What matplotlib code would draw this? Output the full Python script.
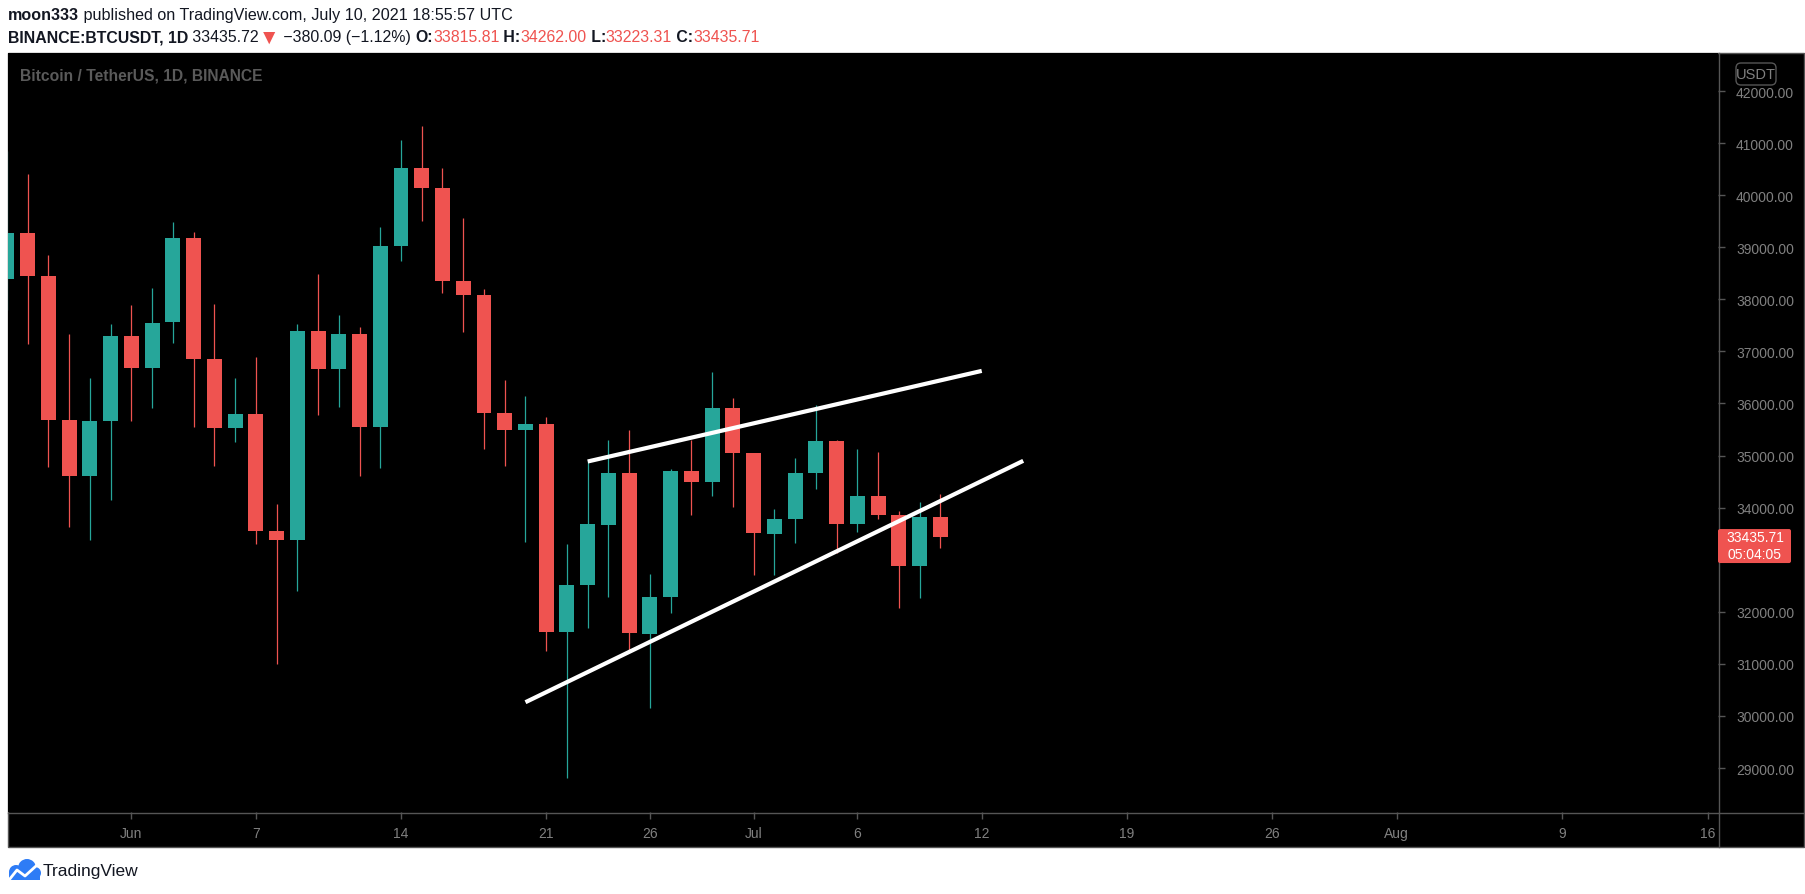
import matplotlib
matplotlib.use('Agg')
import matplotlib.pyplot as plt
import matplotlib.dates as mdates
import pandas as pd
from matplotlib.patches import Rectangle, FancyBboxPatch, Circle
from matplotlib.lines import Line2D
from matplotlib.transforms import IdentityTransform

plt.rcParams['font.family'] = ['Liberation Sans', 'DejaVu Sans']

# daily BTCUSDT candles, May 26 - Jul 10 2021
dates = pd.date_range('2021-05-26', '2021-07-10', freq='D')
opens = [38392, 39266, 38445, 35689, 34607, 35658, 37293, 36687, 37568, 39187,
         36851, 35520, 35796, 33556, 33380, 37389, 36663, 37331, 35546, 39021,
         40516, 40143, 38349, 38092, 35820, 35484, 35600, 31614, 32510, 33676,
         34663, 31576, 32283, 34702, 34494, 35911, 35045, 33502, 33786, 34668,
         35288, 33690, 34220, 33863, 32875, 33815.81]
highs = [40841, 40411, 38856, 37338, 36488, 37534, 37894, 38225, 39476, 39289,
         37917, 36480, 36900, 34068, 37530, 38491, 37690, 37463, 39380, 41064,
         41330, 40527, 39560, 38202, 36457, 36137, 35750, 33298, 34881, 35298,
         35500, 32730, 34749, 35297, 36600, 36100, 35057, 33977, 34945, 35967,
         35293, 35118, 35059, 33929, 34100, 34262.00]
lows = [37800, 37134, 34779, 33632, 33379, 34153, 35667, 35920, 37170, 35555,
        34800, 35258, 33300, 31000, 32396, 35782, 35936, 34600, 34757, 38730,
        39506, 38116, 37365, 35130, 34803, 33337, 31251, 28805, 31683, 32286,
        31275, 30151, 31973, 33862, 34225, 34017, 32711, 32699, 33316, 34357,
        33125, 33532, 33777, 32077, 32261, 33223.31]
closes = [39266, 38445, 35689, 34607, 35658, 37293, 36687, 37555, 39187, 36851,
          35520, 35796, 33552, 33380, 37388, 36662, 37331, 35546, 39020, 40516,
          40144, 38349, 38092, 35820, 35483, 35601, 31608, 32510, 33679, 34663,
          31584, 32283, 34700, 34495, 35911, 35045, 33504, 33786, 34669, 35287,
          33690, 34220, 33862, 32875, 33815, 33435.71]

# drawn trend lines (rising wedge)
upper_x = ['2021-06-23', '2021-07-12']
upper_y = [34886, 36626]
lower_x = ['2021-06-20', '2021-07-14']
lower_y = [30264, 34899]

price_ticks = list(range(29000, 43000, 1000))
tick_dates = ['2021-06-01', '2021-06-07', '2021-06-14', '2021-06-21', '2021-06-26',
              '2021-07-01', '2021-07-06', '2021-07-12', '2021-07-19', '2021-07-26',
              '2021-08-01', '2021-08-09', '2021-08-16']
tick_labels = ['Jun', '7', '14', '21', '26', 'Jul', '6', '12', '19', '26', 'Aug', '9', '16']

UP, DOWN = '#26a69a', '#ef5350'
GRID = '#555555'
LABEL = '#808080'

W, H = 1805, 895
def fy(y):  # pixel from top -> display coords
    return H - y

fig = plt.figure(figsize=(W / 100, H / 100), dpi=100, facecolor='white')
ID = IdentityTransform()

# black frame of the chart widget
frame = Rectangle((8, fy(848)), 1796, 794, transform=ID, fc='black', ec=GRID, lw=1, zorder=-1)
fig.add_artist(frame)

ax = fig.add_axes([8 / W, (H - 813) / H, 1710 / W, 759 / H])
ax.set_facecolor('black')
for s in ax.spines.values():
    s.set_visible(False)

x = mdates.date2num(dates)
cols = [UP if c >= o else DOWN for o, c in zip(opens, closes)]
bottoms = [min(o, c) for o, c in zip(opens, closes)]
bodies = [abs(c - o) for o, c in zip(opens, closes)]
ax.vlines(x, lows, highs, colors=cols, linewidth=0.9, zorder=2)
ax.bar(x, bodies, bottom=bottoms, width=0.72, color=cols, linewidth=0, zorder=3)

ax.plot(mdates.datestr2num(upper_x), upper_y, color='white', lw=3, solid_capstyle='butt', zorder=4)
ax.plot(mdates.datestr2num(lower_x), lower_y, color='white', lw=3, solid_capstyle='butt', zorder=4)

jun1 = mdates.datestr2num('2021-06-01')
ax.set_xlim(jun1 - 5.95, jun1 + 76.5)
ax.set_ylim(28156, 42730)

# the 33000 label sits under the last-price badge
ax.set_yticks(price_ticks)
ax.set_yticklabels(['' if v == 33000 else f'{v:.2f}' for v in price_ticks])
ax.set_xticks(mdates.datestr2num(tick_dates))
ax.set_xticklabels(tick_labels)
ax.yaxis.tick_right()
ax.tick_params(axis='y', length=5, width=1, color=GRID, labelcolor=LABEL, pad=8, labelsize=10)
ax.tick_params(axis='x', length=5, width=1, color=GRID, labelcolor=LABEL, pad=5, labelsize=10)

# separators between plot / price scale / time scale
fig.add_artist(Line2D([1718.5, 1718.5], [fy(54), fy(848)], transform=ID, color=GRID, lw=1, zorder=5))
fig.add_artist(Line2D([8, 1804], [fy(813.5), fy(813.5)], transform=ID, color=GRID, lw=1, zorder=5))

# USDT badge
fig.add_artist(FancyBboxPatch((1736, fy(86)), 40, 22, boxstyle='round,pad=0,rounding_size=5',
                              transform=ID, fc='black', ec=GRID, lw=1, zorder=5))
fig.text(1756, fy(75), 'USDT', transform=ID, ha='center', va='center', color=LABEL, fontsize=10.5, zorder=6)

# last price badge
ypx = ax.transData.transform((x[-1], closes[-1]))[1]
fig.add_artist(FancyBboxPatch((1718, ypx - 26), 73, 34, boxstyle='round,pad=0,rounding_size=2',
                              transform=ID, fc=DOWN, ec='none', zorder=7))
fig.text(1755, ypx, f'{closes[-1]:.2f}', transform=ID, ha='center', va='center',
         color='white', fontsize=10, zorder=8)
fig.text(1755, ypx - 17, '05:04:05', transform=ID, ha='center', va='center',
         color='white', fontsize=10, zorder=8)

r = fig.canvas.get_renderer()

def put_line(segments, x0, y, size):
    xs = x0
    for txt, color, weight, scale in segments:
        t = fig.text(xs, y, txt, transform=ID, ha='left', va='center', color=color,
                     fontsize=size * scale, fontweight=weight, zorder=8)
        xs += t.get_window_extent(r).width
    return xs - x0

def fit_line(segments, x0, y, target):
    probe = [fig.text(0, 0, s[0], fontsize=10 * s[3], fontweight=s[2]) for s in segments]
    w = sum(p.get_window_extent(r).width for p in probe)
    for p in probe:
        p.remove()
    size = 10 * target / w
    put_line(segments, x0, y, size)
    return size

TXT = '#131722'
line1 = [('moon333', TXT, 'bold', 1),
         (' published on TradingView.com, July 10, 2021 18:55:57 UTC', TXT, 'normal', 1)]
fit_line(line1, 8, fy(16), 504)

line2 = [('BINANCE:BTCUSDT, 1D', TXT, 'bold', 1),
         (' 33435.72', TXT, 'normal', 1),
         ('\u25bc', DOWN, 'normal', 1.3),
         (' \u2212380.09 (\u22121.12%) ', TXT, 'normal', 1),
         ('O:', TXT, 'bold', 1), ('33815.81', DOWN, 'normal', 1),
         (' H:', TXT, 'bold', 1), ('34262.00', DOWN, 'normal', 1),
         (' L:', TXT, 'bold', 1), ('33223.31', DOWN, 'normal', 1),
         (' C:', TXT, 'bold', 1), ('33435.71', DOWN, 'normal', 1)]
fit_line(line2, 8, fy(38), 752)

wm = [('Bitcoin / TetherUS, 1D, BINANCE', '#5a5a5a', 'bold', 1)]
fit_line(wm, 20, fy(76), 242)

# TradingView logo
BLUE = '#2e7cf6'
for cx, cy, rad in [(16, 873, 7), (27, 869, 9), (35, 874, 6)]:
    fig.add_artist(Circle((cx, fy(cy)), rad, transform=ID, fc=BLUE, ec='none', zorder=6))
fig.add_artist(Rectangle((9, fy(881)), 31, 8, transform=ID, fc=BLUE, ec='none', zorder=6))
fig.add_artist(Line2D([9, 17, 25, 36], [fy(881), fy(871), fy(877), fy(867)], transform=ID,
                      color='white', lw=2, zorder=7))
fig.text(43, fy(872), 'TradingView', transform=ID, ha='left', va='center', color=TXT,
         fontsize=12.5, zorder=8)

fig.savefig('out.png', dpi=100, facecolor='white')
